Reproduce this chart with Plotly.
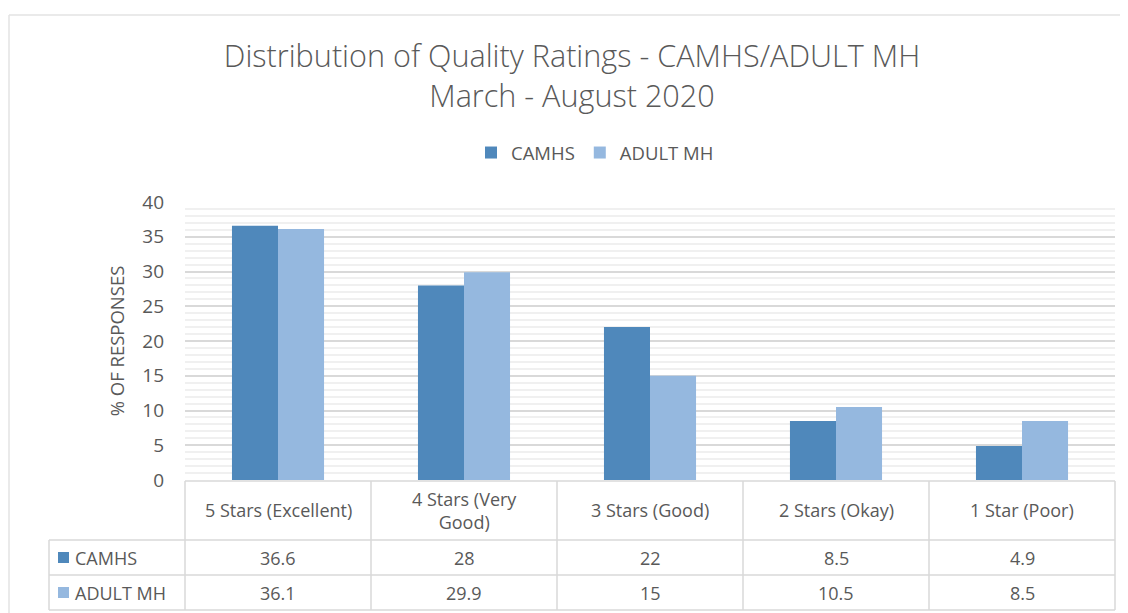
import plotly.graph_objects as go

categories = ["5 Stars (Excellent)", "4 Stars (Very<br>Good)", "3 Stars (Good)", "2 Stars (Okay)", "1 Star (Poor)"]
series_names = ["CAMHS", "ADULT MH"]
camhs = [36.6, 28, 22, 8.5, 4.9]
adult_mh = [36.1, 29.9, 15, 10.5, 8.5]
colors = ["#4F88BB", "#95B8DF"]
y_ticks = [0, 5, 10, 15, 20, 25, 30, 35, 40]

OFF = 8  # page body margin
W, H = 1128 - OFF, 613 - OFF
L, R, T, B = 185, 1115, 202, 480  # plot area in page pixels
TXT = "#595959"
GRID = "#D9D9D9"
FONT = "Open Sans"


def px(x):
    return (x - L) / (R - L)


def py(y):
    return (B - y) / (B - T)


fig = go.Figure()
for name, vals, col in zip(series_names, [camhs, adult_mh], colors):
    fig.add_trace(go.Bar(x=list(range(len(categories))), y=vals, name=name,
                         marker=dict(color=col, line=dict(width=0))))

shapes = []
n = len(categories)
# table horizontal lines
shapes.append(dict(type="line", xref="paper", yref="paper", x0=0, x1=1, y0=py(481), y1=py(481),
                   line=dict(color=GRID, width=1.5)))
for yy in [540, 575, 610]:
    shapes.append(dict(type="line", xref="paper", yref="paper", x0=px(49), x1=1, y0=py(yy), y1=py(yy),
                       line=dict(color=GRID, width=1.5)))
# table vertical lines
shapes.append(dict(type="line", xref="paper", yref="paper", x0=px(49), x1=px(49), y0=py(540), y1=py(610),
                   line=dict(color=GRID, width=1.5)))
for i in range(n + 1):
    xp = i / n
    shapes.append(dict(type="line", xref="paper", yref="paper", x0=xp, x1=xp, y0=py(481), y1=py(610),
                       line=dict(color=GRID, width=1.5)))
# series keys in the table
for row_y, col in zip([557.5, 592.5], colors):
    shapes.append(dict(type="rect", xref="paper", yref="paper", x0=px(58), x1=px(69),
                       y0=py(row_y - 5.5), y1=py(row_y + 5.5), fillcolor=col, line=dict(width=0)))
# outer chart frame (top and left)
shapes.append(dict(type="line", xref="paper", yref="paper", x0=px(9), x1=px(1130), y0=py(15), y1=py(15),
                   line=dict(color="#E3E3E3", width=1.5)))
shapes.append(dict(type="line", xref="paper", yref="paper", x0=px(9), x1=px(9), y0=py(15), y1=py(615),
                   line=dict(color="#E3E3E3", width=1.5)))

annotations = []
for i, cat in enumerate(categories):
    annotations.append(dict(x=i, xref="x", y=py(510), yref="paper", text=cat, showarrow=False,
                            font=dict(size=18, color=TXT, family=FONT), xanchor="center", yanchor="middle"))
    for row_y, vals in zip([557.5, 592.5], [camhs, adult_mh]):
        annotations.append(dict(x=i, xref="x", y=py(row_y), yref="paper", text=f"{vals[i]:g}",
                                showarrow=False, font=dict(size=18, color=TXT, family=FONT),
                                xanchor="center", yanchor="middle"))
for row_y, name in zip([557.5, 592.5], series_names):
    annotations.append(dict(x=px(73), xref="paper", y=py(row_y), yref="paper",
                            text=name, showarrow=False,
                            font=dict(size=18, color=TXT, family=FONT), xanchor="left", yanchor="middle"))

fig.update_layout(
    width=W, height=H, autosize=False,
    margin=dict(l=L - OFF, r=W - (R - OFF), t=T - OFF, b=H - (B - OFF), pad=0),
    paper_bgcolor="white", plot_bgcolor="white",
    title=dict(text="Distribution of Quality Ratings - CAMHS/ADULT MH<br>March - August 2020",
               x=(572 - OFF) / W, xanchor="center", xref="container",
               y=1 - (67 - OFF) / H, yanchor="top", yref="container",
               font=dict(size=30.6, color=TXT, family=FONT, weight=300)),
    barmode="group", bargap=0.505, bargroupgap=0,
    showlegend=True,
    legend=dict(orientation="h", x=px(595), xanchor="center", y=py(153), yanchor="middle",
                font=dict(size=18.5, color=TXT, family=FONT), itemwidth=30,
                bgcolor="rgba(0,0,0,0)"),
    xaxis=dict(range=[-0.5, n - 0.5], showticklabels=False, showgrid=False, zeroline=False,
               showline=False, ticks=""),
    yaxis=dict(range=[0, 40], tickvals=y_ticks, showgrid=True, gridcolor=GRID, gridwidth=1.5,
               zeroline=False, showline=False, ticks="", ticklabelstandoff=20,
               tickfont=dict(size=19, color=TXT, family=FONT),
               minor=dict(dtick=1, showgrid=True, gridcolor="#F0F0F0", gridwidth=1.5),
               title=dict(text="% OF RESPONSES", standoff=12,
                          font=dict(size=18.5, color=TXT, family=FONT))),
    shapes=shapes, annotations=annotations,
)

fig.write_html("out.html")
